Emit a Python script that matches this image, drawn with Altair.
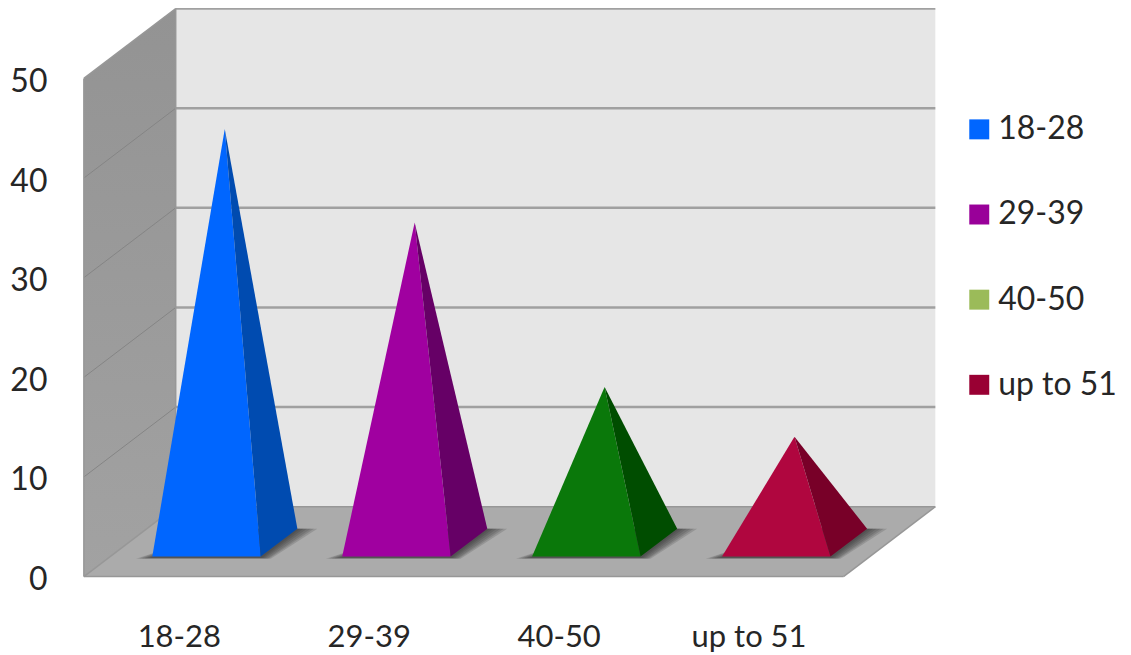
import altair as alt
import pandas as pd

categories = ["18-28", "29-39", "40-50", "up to 51"]
values = [41.5, 32.1, 15.6, 10.6]
face_colors = ["#0066ff", "#a000a0", "#0a780a", "#b0063f"]
side_colors = ["#004bb0", "#660066", "#004d00", "#780028"]
legend_colors = ["#0066ff", "#990099", "#9bbb59", "#990033"]
y_ticks = [0, 10, 20, 30, 40, 50]

DX, DY = 0.4836, 7.01   # depth projection, in axis units
FONT = "Lato"
TEXT = "#262626"


def proj(x, v, d):
    return (x + DX * d, v + DY * d)


def to_area(points, pid, **extra):
    """Convex polygon -> rows of x / y / y2 for an area mark."""
    rows = []
    n = len(points)
    for x in sorted({p[0] for p in points}):
        ys = []
        for k in range(n):
            (x0, y0), (x1, y1) = points[k], points[(k + 1) % n]
            if min(x0, x1) <= x <= max(x0, x1):
                if x0 == x1:
                    ys += [y0, y1]
                else:
                    ys.append(y0 + (y1 - y0) * (x - x0) / (x1 - x0))
        rows.append({"pid": pid, "x": x, "y": min(ys), "y2": max(ys), **extra})
    return rows


label_expr = "[" + ",".join(f"'{c}'" for c in categories) + "][floor(datum.value)]"
X = alt.X(
    "x:Q",
    scale=alt.Scale(domain=[0, 4], nice=False, zero=False),
    axis=alt.Axis(values=[0.5, 1.5, 2.5, 3.5], labelExpr=label_expr, title=None,
                  domain=False, ticks=False, grid=False, labelFont=FONT,
                  labelFontSize=31, labelColor=TEXT, labelPadding=46,
                  labelFlush=False, labelOverlap=False),
)
Y = alt.Y(
    "y:Q",
    scale=alt.Scale(domain=[0, 50], nice=False, zero=True),
    axis=alt.Axis(values=y_ticks, title=None, domain=False, ticks=False, grid=False,
                  labelFont=FONT, labelFontSize=32, labelColor=TEXT, labelOffset=3,
                  labelPadding=37, labelFlush=False, labelOverlap=False),
)


def area_layer(rows, **mark):
    return alt.Chart(pd.DataFrame(rows)).mark_area(**mark).encode(
        x=X, y=Y, y2="y2:Q", detail="pid:N"
    )


# walls
left_wall = to_area([proj(0, 0, 0), proj(0, 50, 0), proj(0, 50, 1), proj(0, 0, 1)], 0)
back_wall = to_area([proj(0, 0, 1), proj(0, 50, 1), proj(4, 50, 1), proj(4, 0, 1)], 0)
floor = to_area([proj(0, 0, 0), proj(4, 0, 0), proj(4, 0, 1), proj(0, 0, 1)], 0)

wall_l = area_layer(
    left_wall,
    fill=alt.Gradient(
        gradient="linear", x1=0, x2=0, y1=0, y2=1,
        stops=[alt.GradientStop(offset=0, color="#939393"),
               alt.GradientStop(offset=1, color="#a2a2a2")],
    ),
)
wall_b = area_layer(back_wall, fill="#e6e6e6")
wall_f = area_layer(floor, fill="#ababab")

# gridlines and edges
seg_back, seg_left, seg_edge = [], [], []
for t in y_ticks[1:]:
    a, b = proj(0, t, 1), proj(4, t, 1)
    seg_back.append({"x": a[0], "x2": b[0], "y": a[1], "y2": b[1]})
for t in y_ticks[1:-1]:
    a, b = proj(0, t, 0), proj(0, t, 1)
    seg_left.append({"x": a[0], "x2": b[0], "y": a[1], "y2": b[1]})
for p, q in [
    (proj(0, 0, 0), proj(4, 0, 0)),
    (proj(0, 0, 0), proj(0, 50, 0)),
    (proj(0, 50, 0), proj(0, 50, 1)),
    (proj(0, 0, 1), proj(0, 50, 1)),
    (proj(4, 0, 0), proj(4, 0, 1)),
    (proj(0, 0, 0), proj(0, 0, 1)),
    (proj(0, 0, 1), proj(4, 0, 1)),
]:
    seg_edge.append({"x": p[0], "x2": q[0], "y": p[1], "y2": q[1]})


def rule_layer(rows, color, width):
    return alt.Chart(pd.DataFrame(rows)).mark_rule(color=color, strokeWidth=width).encode(
        x=X, x2="x2:Q", y=Y, y2="y2:Q"
    )


grid_b = rule_layer(seg_back, "#a0a0a0", 2.5)
grid_l = rule_layer(seg_left, "#858585", 1.0)
edges = rule_layer(seg_edge, "#979797", 1.5)

# shadows and pyramids
shadow_rows, face_rows, side_rows = [], [], []
L, R = 0.222, 0.793
DF, DB = 0.286, 0.685
spreads = [(0.085, 0.105), (0.07, 0.087), (0.055, 0.07), (0.04, 0.05), (0.025, 0.032), (0.012, 0.015)]
for i, v in enumerate(values):
    for s, (grow_l, grow_r) in enumerate(spreads):
        shadow_rows += to_area(
            [
                proj(i + L - grow_l, -0.1 - grow_r * 1.2, DF),
                proj(i + R + grow_r * 0.5, -0.1 - grow_r * 1.2, DF),
                proj(i + R + grow_r, 0, DB),
                proj(i + L + 0.2, 0, DB),
            ],
            f"{i}-{s}",
        )
    apex = proj(i + 0.505, v, 0.49)
    fl, fr = proj(i + L, 0, DF), proj(i + R, 0, DF)
    br = proj(i + R, 0, DB)
    face_rows += to_area([fl, fr, apex], i, color=face_colors[i])
    side_rows += to_area([fr, br, apex], i, color=side_colors[i])

shadows = area_layer(shadow_rows, fill="#2a2a2a", opacity=0.17)


def pyr_layer(rows):
    return alt.Chart(pd.DataFrame(rows)).mark_area().encode(
        x=X, y=Y, y2="y2:Q", detail="pid:N",
        fill=alt.Fill("color:N", scale=None, legend=None),
    )


# legend
legend_df = pd.DataFrame({"group": categories})
legend_layer = alt.Chart(legend_df).transform_filter("false").mark_square(
    size=400, opacity=1
).encode(
    color=alt.Color(
        "group:N",
        scale=alt.Scale(domain=categories, range=legend_colors),
        sort=categories,
        legend=alt.Legend(
            title=None, orient="none", legendX=881, legendY=35,
            symbolType="square", symbolSize=400, symbolStrokeWidth=0, symbolOpacity=1,
            labelFont=FONT, labelFontSize=32, labelColor=TEXT,
            labelOffset=3, rowPadding=53.3, labelLimit=200, padding=0,
        ),
    )
)

chart = alt.layer(
    wall_l, wall_b, wall_f, grid_l, grid_b, edges, shadows,
    pyr_layer(face_rows), pyr_layer(side_rows), legend_layer,
).properties(
    width=761, height=499,
    padding={"left": 76, "top": 70, "right": 280, "bottom": 78},
    autosize=alt.AutoSizeParams(type="none"),
).configure_view(stroke=None)

chart.save("out.html", embed_options={"renderer": "svg", "actions": False})
